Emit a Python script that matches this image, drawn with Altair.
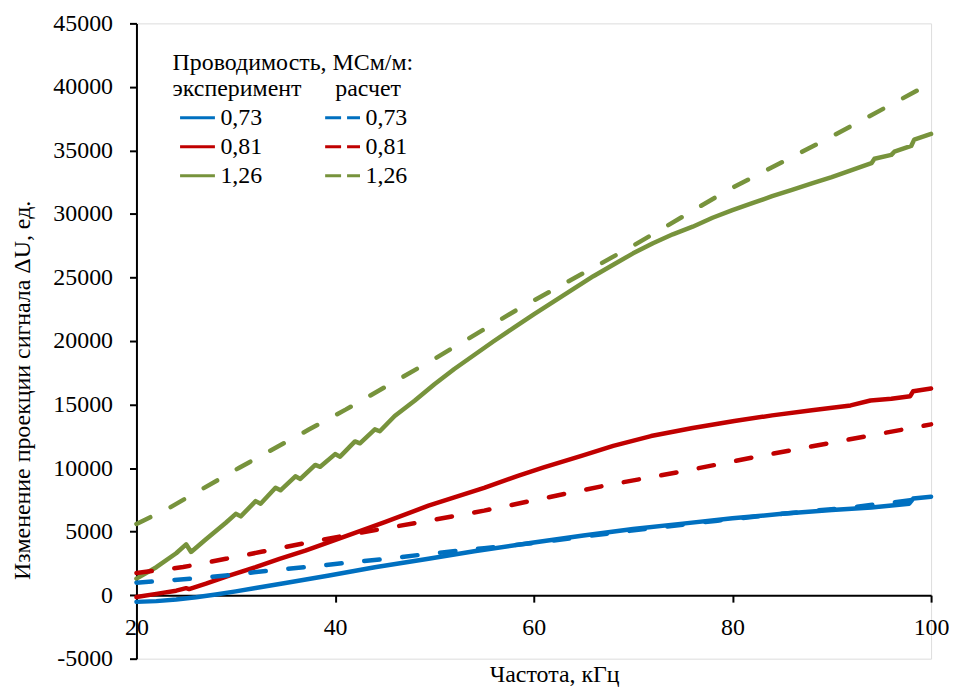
import altair as alt
import pandas as pd

# ---------------- data ----------------
series_names = ["0,73", "0,81", "1,26"]
colors = ["#0070C0", "#C00000", "#77933C"]

# experiment (solid)
exp_073_f = [20, 22, 24, 26, 28, 30, 32, 35, 39.4, 44, 49.4, 54, 60, 65, 70, 75, 80, 85, 90, 94, 97.8, 98.2, 100]
exp_073_v = [-530, -470, -350, -170, 50, 300, 560, 950, 1550, 2200, 2860, 3450, 4150, 4700, 5200, 5630, 6050,
             6400, 6700, 6900, 7200, 7600, 7750]

exp_081_f = [20, 22, 24, 25, 25.3, 27, 29.4, 32, 34.4, 37, 39.4, 42, 45, 49.4, 52, 55, 58.4, 61, 64.8, 68, 71.8,
             76, 80.2, 84, 88, 91.9, 93.9, 96, 97.9, 98.2, 100]
exp_081_v = [-150, 100, 350, 550, 480, 900, 1550, 2200, 2860, 3500, 4170, 4900, 5750, 7040, 7700, 8450, 9390,
             10050, 10960, 11750, 12520, 13150, 13700, 14150, 14550, 14930, 15320, 15450, 15660, 16050, 16260]

exp_126_f = [20, 22, 24, 25, 25.5, 27, 29, 30, 30.5, 32, 32.5, 34, 34.5, 36, 36.5, 38, 38.5, 40, 40.5, 42, 42.5,
             44, 44.5, 46, 48, 50, 52, 54, 56, 58, 60, 62, 64, 66, 68, 70, 72, 74, 76, 78, 80, 82, 84, 86, 88, 90,
             92, 94, 94.3, 96, 96.3, 98, 98.3, 100]
exp_126_v = [1300, 2200, 3300, 4000, 3400, 4400, 5700, 6400, 6200, 7400, 7200, 8450, 8250, 9350, 9150, 10250,
             10100, 11100, 10900, 12100, 11950, 13050, 12900, 14100, 15300, 16600, 17800, 18900, 20000, 21050,
             22100, 23100, 24100, 25100, 26000, 26900, 27700, 28400, 29000, 29700, 30300, 30850, 31400, 31900,
             32400, 32900, 33450, 34000, 34350, 34650, 34900, 35350, 35850, 36300]

# calculation (dashed)
calc_073_f = [20, 25.4, 29, 33, 37, 40, 45, 49.4, 55, 60, 64.5, 71.2, 78.5, 85, 91.9, 96.2, 100]
calc_073_v = [980, 1290, 1550, 1900, 2210, 2450, 2850, 3250, 3700, 4100, 4560, 5210, 5860, 6400, 6910, 7300, 7700]

calc_081_f = [20, 24.7, 29, 32.7, 36.9, 40, 45, 49.4, 55, 59.8, 67.1, 75.2, 83.2, 90.9, 100]
calc_081_v = [1740, 2210, 2860, 3430, 4090, 4550, 5250, 5860, 6650, 7430, 8610, 9780, 11010, 12130, 13440]

calc_126_f = [20, 23.4, 30.4, 37.4, 41.1, 50, 58.4, 70, 79.5, 90, 100]
calc_126_v = [5600, 6910, 10050, 13050, 14620, 18600, 22500, 27500, 31860, 36100, 40300]

x_ticks = [20, 40, 60, 80, 100]
y_ticks = list(range(-5000, 45001, 5000))

legend_header = "Проводимость, МСм/м:"
header_exp = "эксперимент"
header_calc = "расчет"
x_title = "Частота, кГц"
y_title = "Изменение проекции сигнала ΔU, ед."


def frame(pairs, key):
    rows = []
    for name, fs, vs in pairs:
        for f, v in zip(fs, vs):
            rows.append({"f": f, "v": v, key: name})
    return pd.DataFrame(rows)


df_exp = frame([("0,73", exp_073_f, exp_073_v), ("0,81", exp_081_f, exp_081_v),
                ("1,26", exp_126_f, exp_126_v)], "exp")
df_calc = frame([("0,73", calc_073_f, calc_073_v), ("0,81", calc_081_f, calc_081_v),
                 ("1,26", calc_126_f, calc_126_v)], "calc")

FONT = "Liberation Serif, Tinos, Nimbus Roman, DejaVu Serif"
W, H = 798, 638

x_scale = alt.Scale(domain=[20, 100], nice=False, zero=False)
y_scale = alt.Scale(domain=[-5000, 45000], nice=False, zero=False)

x_axis = alt.Axis(values=x_ticks, title=x_title, offset=-63.8, tickSize=7, labelPadding=14,
                  labelFontSize=24, titleFontSize=24, titleFontWeight="normal", titleX=419.5, titleY=87,
                  titleBaseline="alphabetic", domainColor="black", tickColor="black", labelColor="black",
                  titleColor="black", grid=False, domainWidth=2, tickWidth=2, labelFlush=False,
                  labelOverlap=False, labelFont=FONT, titleFont=FONT)
y_axis = alt.Axis(values=y_ticks, title=y_title, tickSize=7, labelPadding=17, labelFontSize=24,
                  titleFontSize=24, titleFontWeight="normal", titleX=-107, titleY=368,
                  titleBaseline="alphabetic", domainColor="black", tickColor="black", labelColor="black",
                  titleColor="black", grid=False, domainWidth=2, tickWidth=2, labelOverlap=False,
                  labelExpr="'' + datum.value", labelFont=FONT, titleFont=FONT)

X = alt.X("f:Q", scale=x_scale, axis=x_axis)
Y = alt.Y("v:Q", scale=y_scale, axis=y_axis)


def legend(lx, dash=None):
    kw = dict(orient="none", legendX=lx, legendY=82.7, symbolType="stroke", symbolSize=1225,
              symbolStrokeWidth=3, clipHeight=24, rowPadding=5.2, labelFontSize=24, labelOffset=4,
              labelFont=FONT, labelColor="black", padding=0)
    if dash:
        kw["symbolDash"] = dash
    return alt.Legend(**kw)


solid = alt.Chart(df_exp).mark_line(strokeWidth=4.5, strokeCap="round", strokeJoin="round").encode(
    x=X, y=Y,
    color=alt.Color("exp:N", title=None, scale=alt.Scale(range=colors), legend=legend(42.3)),
)

dashed = alt.Chart(df_calc).mark_line(strokeWidth=4.5, strokeCap="round", strokeJoin="round",
                                      strokeDash=[15.5, 22.8]).encode(
    x=X, y=Y,
    stroke=alt.Stroke("calc:N", title=None, scale=alt.Scale(range=colors), legend=legend(188, [16, 6])),
)


def label(text, px, py):
    return alt.Chart(pd.DataFrame({"t": [text]})).mark_text(
        align="left", baseline="alphabetic", fontSize=24, font=FONT, color="black"
    ).encode(x=alt.value(px), y=alt.value(py), text="t:N")


chart = alt.layer(
    solid, dashed,
    label(legend_header, 36.3, 47.3),
    label(header_exp, 36.3, 73),
    label(header_calc, 199.7, 73),
).properties(
    width=W, height=H,
    autosize=alt.AutoSizeParams(type="none"),
    padding={"left": 129, "top": 14, "right": 18, "bottom": 28},
).configure_view(stroke=None).configure(font=FONT)

chart.save("out.html", embed_options={"renderer": "svg", "actions": False})
